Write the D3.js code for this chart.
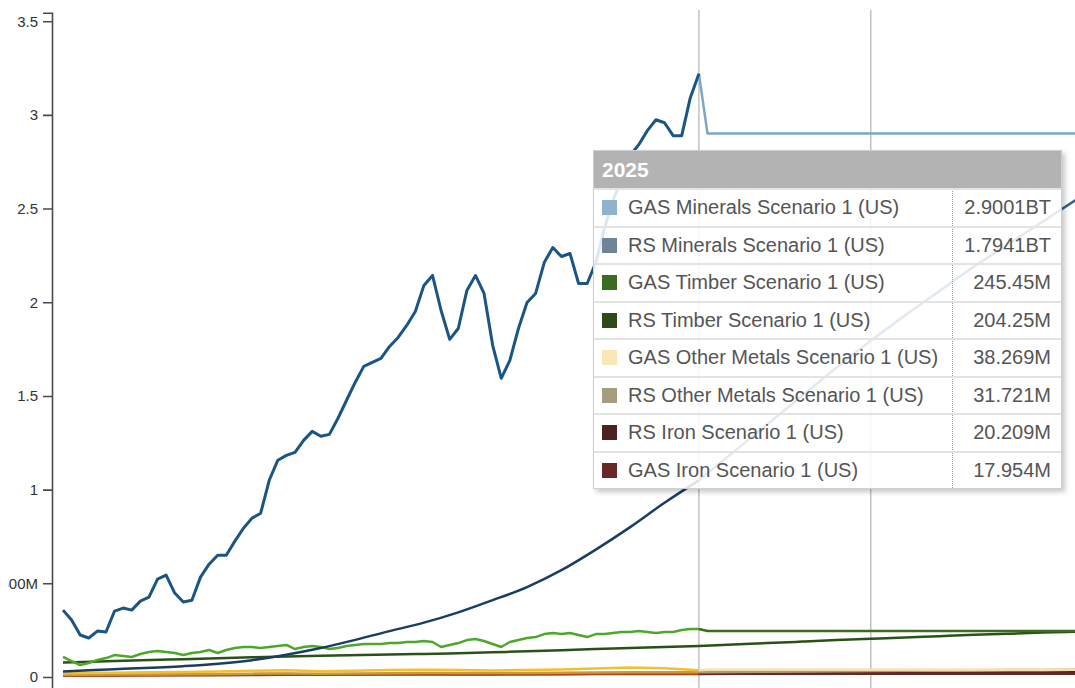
<!doctype html>
<html lang="en">
<head>
<meta charset="utf-8">
<title>Scenario 1 (US)</title>
<script src="https://cdn.jsdelivr.net/npm/d3@7"></script>
<style>
  body { margin: 0; background: #fff; font-family: "Liberation Sans", Arial, sans-serif; }
  #chart { position: relative; width: 1075px; height: 688px; overflow: hidden; }
  .tip { position: absolute; left: 593px; top: 150px; width: 467px;
         background: rgba(255,255,255,0.86); border: 1px solid #d0d0d0;
         box-shadow: 3px 3px 5px rgba(0,0,0,0.22); }
  .tip .head { height: 37px; background: #b3b3b3; color: #fff; font-weight: bold;
               font-size: 21px; line-height: 37px; padding-left: 8px; }
  .tip .row { position: relative; height: 35.5px; border-top: 2px solid #e3e3e3;
              font-size: 20px; color: #555; line-height: 35px; }
  .tip .row:first-of-type { border-top: 0; }
  .tip .sw { position: absolute; left: 8px; top: 10px; width: 15px; height: 15px; }
  .tip .lab { position: absolute; left: 34px; }
  .tip .val { position: absolute; right: 10px; }
  .tip .sep { position: absolute; left: 358px; top: 37px; bottom: 0; border-left: 1px dotted #999; }
</style>
</head>
<body>
<div id="chart"></div>
<script>
// quarterly history, 2001 Q3 .. 2020 Q1
var histStart = 2001.5;
var gasMineralsHist = [
  0.357,0.304,0.224,0.208,0.245,0.240,0.352,0.368,0.357,0.405,
  0.426,0.522,0.544,0.448,0.400,0.410,0.533,0.602,0.650,0.650,
  0.725,0.794,0.848,0.874,1.050,1.157,1.183,1.199,1.263,1.311,
  1.285,1.295,1.381,1.477,1.572,1.658,1.679,1.700,1.764,1.812,
  1.876,1.951,2.090,2.143,1.956,1.802,1.860,2.063,2.143,2.047,
  1.770,1.594,1.690,1.860,1.999,2.047,2.212,2.292,2.244,2.260,
  2.100,2.100,2.212,2.393,2.543,2.660,2.783,2.841,2.916,2.974,
  2.958,2.889,2.889,3.092,3.220];
var gasTimberHist = [
  .107,.085,.064,.075,.091,.101,.117,.112,.107,.123,
  .133,.139,.133,.128,.117,.128,.133,.144,.128,.144,
  .155,.160,.160,.155,.160,.165,.171,.149,.160,.165,
  .160,.149,.155,.165,.171,.176,.176,.176,.181,.181,
  .187,.187,.192,.187,.160,.171,.181,.197,.203,.192,
  .176,.160,.187,.197,.208,.213,.229,.235,.229,.235,
  .224,.213,.229,.229,.235,.240,.240,.245,.240,.235,
  .240,.240,.251,.256,.256];

// yearly history for the small series
var smallYears = [2001.5,2002,2003,2004,2005,2006,2007,2008,2009,2010,2011,2012,2013,2014,2015,2016,2017,2018,2019,2020];
var gasOtherHist = [0.020,0.021,0.023,0.025,0.027,0.030,0.033,0.036,0.031,0.034,0.037,0.039,0.037,0.035,0.037,0.040,0.046,0.051,0.047,0.036];
var rsOtherHist  = [0.011,0.012,0.013,0.014,0.015,0.016,0.018,0.019,0.018,0.019,0.020,0.021,0.021,0.021,0.022,0.023,0.024,0.025,0.025,0.025];
var gasIronHist  = [0.009,0.009,0.010,0.010,0.011,0.012,0.014,0.016,0.013,0.014,0.016,0.017,0.016,0.015,0.015,0.016,0.017,0.018,0.017,0.017];
var rsIronHist   = [0.007,0.008,0.008,0.009,0.010,0.010,0.011,0.012,0.012,0.013,0.013,0.014,0.014,0.014,0.015,0.015,0.016,0.016,0.016,0.016];

// smooth RS curves
var rsYears = [2001.5,2003,2005,2007,2009,2011,2012,2013,2014,2015,2016,2017,2018,2019,2020,2021,2022,2023,2024,2025,2026,2027,2028,2029,2030,2031];
var rsMinerals = [0.030,0.042,0.058,0.090,0.155,0.245,0.290,0.345,0.410,0.480,0.570,0.680,0.800,0.930,1.050,1.200,1.350,1.500,1.650,1.7941,1.930,2.060,2.190,2.310,2.430,2.550];
var rsTimber   = [0.077,0.085,0.095,0.105,0.113,0.120,0.123,0.127,0.132,0.137,0.143,0.149,0.155,0.160,0.166,0.174,0.181,0.189,0.197,0.20425,0.211,0.218,0.225,0.231,0.237,0.242];

// projections 2020 .. 2031
var projYears = [2020,2020.25,2031];
var gasMineralsProj = [3.220,2.9001,2.9001];
var gasTimberProj   = [0.256,0.24545,0.24545];
var gasOtherProj    = [0.036,0.038269,0.038269];
var gasIronProj     = [0.017,0.017954,0.017954];
var proj2Years = [2020,2021,2022,2023,2024,2025,2026,2027,2028,2029,2030,2031];
var rsOtherProj = [0.025,0.0263,0.0277,0.029,0.0303,0.031721,0.033,0.0343,0.0356,0.0368,0.038,0.0392];
var rsIronProj  = [0.016,0.0168,0.0177,0.0185,0.0194,0.020209,0.021,0.0218,0.0226,0.0234,0.0242,0.025];

var markerYears = [2020, 2025];
var yTicks = [0,0.5,1,1.5,2,2.5,3,3.5];
var yTickLabels = ["0","500M","1","1.5","2","2.5","3","3.5"];

var tipYear = "2025";
var tipLabels = ["GAS Minerals Scenario 1 (US)","RS Minerals Scenario 1 (US)","GAS Timber Scenario 1 (US)","RS Timber Scenario 1 (US)",
                 "GAS Other Metals Scenario 1 (US)","RS Other Metals Scenario 1 (US)","RS Iron Scenario 1 (US)","GAS Iron Scenario 1 (US)"];
var tipValues = ["2.9001BT","1.7941BT","245.45M","204.25M","38.269M","31.721M","20.209M","17.954M"];
var tipColors = ["#8fb2cf","#6f8399","#3d6b1f","#2c4a1c","#fbe7b5","#a59c7b","#4b2121","#6b2626"];

var W = 1075, H = 688;
var svg = d3.select("#chart").append("svg").attr("width", W).attr("height", H);

var x = d3.scaleLinear().domain([2001.5, 2031]).range([63, 1077]);
var y = d3.scaleLinear().domain([0, 3.5]).range([677, 21.2]);

var quarters = gasMineralsHist.map(function(d, i){ return histStart + i * 0.25; });

// marker lines
svg.append("g").selectAll("line").data(markerYears).enter().append("line")
  .attr("x1", function(d){ return x(d); }).attr("x2", function(d){ return x(d); })
  .attr("y1", 10).attr("y2", H + 10)
  .attr("stroke", "#c2c2c2").attr("stroke-width", 1.5);

function pairs(xs, ys){ return xs.map(function(d, i){ return [d, ys[i]]; }); }

var series = [
  {pts: pairs(smallYears, rsIronHist), c: "#8c3a22", w: 2.5},
  {pts: pairs(smallYears, gasIronHist), c: "#b0461e", w: 2.5},
  {pts: pairs(smallYears, rsOtherHist), c: "#c99a36", w: 2.5},
  {pts: pairs(smallYears, gasOtherHist), c: "#f2c02c", w: 2.5},
  {pts: pairs(proj2Years, rsIronProj), c: "#4b2121", w: 2.5},
  {pts: pairs(projYears, gasIronProj), c: "#6b2626", w: 2.5},
  {pts: pairs(proj2Years, rsOtherProj), c: "#a79c7a", w: 2.5},
  {pts: pairs(projYears, gasOtherProj), c: "#f6e0a9", w: 2.5},
  {pts: pairs(rsYears, rsTimber), c: "#2a5218", w: 2.5, smooth: true},
  {pts: pairs(projYears, gasTimberProj), c: "#3d6b1f", w: 2.5},
  {pts: pairs(quarters, gasTimberHist), c: "#4ea72a", w: 2.5},
  {pts: pairs(rsYears, rsMinerals).filter(function(d){ return d[0] <= 2020; }), c: "#1b3d63", w: 2.5, smooth: true},
  {pts: pairs(rsYears, rsMinerals).filter(function(d){ return d[0] >= 2020; }), c: "#32618f", w: 2.5, smooth: true},
  {pts: pairs(projYears, gasMineralsProj), c: "#7fa6c6", w: 2.5},
  {pts: pairs(quarters, gasMineralsHist), c: "#1b5585", w: 3}
];

var lineFlat = d3.line().x(function(d){ return x(d[0]); }).y(function(d){ return y(d[1]); });
var lineSmooth = d3.line().x(function(d){ return x(d[0]); }).y(function(d){ return y(d[1]); }).curve(d3.curveMonotoneX);

svg.append("g").selectAll("path").data(series).enter().append("path")
  .attr("d", function(d){ return d.smooth ? lineSmooth(d.pts) : lineFlat(d.pts); })
  .attr("fill", "none")
  .attr("stroke", function(d){ return d.c; })
  .attr("stroke-width", function(d){ return d.w; })
  .attr("stroke-linejoin", "round");

// y axis, the domain runs a bit past the ticks at both ends; left edge is cut like the original
svg.append("clipPath").attr("id", "axclip").append("rect")
  .attr("x", -43.6).attr("y", 0).attr("width", 60).attr("height", H);
var yAxisScale = d3.scaleLinear().domain([-0.12, 3.545]).range([y(-0.12), y(3.545)]);
var ax = svg.append("g").attr("transform", "translate(52,0)").attr("clip-path", "url(#axclip)")
  .call(d3.axisLeft(yAxisScale).tickValues(yTicks).tickSize(9)
        .tickFormat(function(d, i){ return yTickLabels[i]; }));
ax.selectAll("path, line").attr("stroke", "#4a4a4a").attr("stroke-width", 1.6);
ax.selectAll("text").attr("fill", "#333").attr("font-size", 15)
  .attr("font-family", "'Liberation Sans', Arial, sans-serif").attr("x", -14);

// tooltip
var tip = d3.select("#chart").append("div").attr("class", "tip");
tip.append("div").attr("class", "head").text(tipYear);
tip.append("div").attr("class", "sep");
var rows = tip.selectAll("div.row").data(tipLabels).enter().append("div").attr("class", "row");
rows.append("span").attr("class", "sw").style("background", function(d, i){ return tipColors[i]; });
rows.append("span").attr("class", "lab").text(function(d){ return d; });
rows.append("span").attr("class", "val").text(function(d, i){ return tipValues[i]; });
</script>
</body>
</html>
